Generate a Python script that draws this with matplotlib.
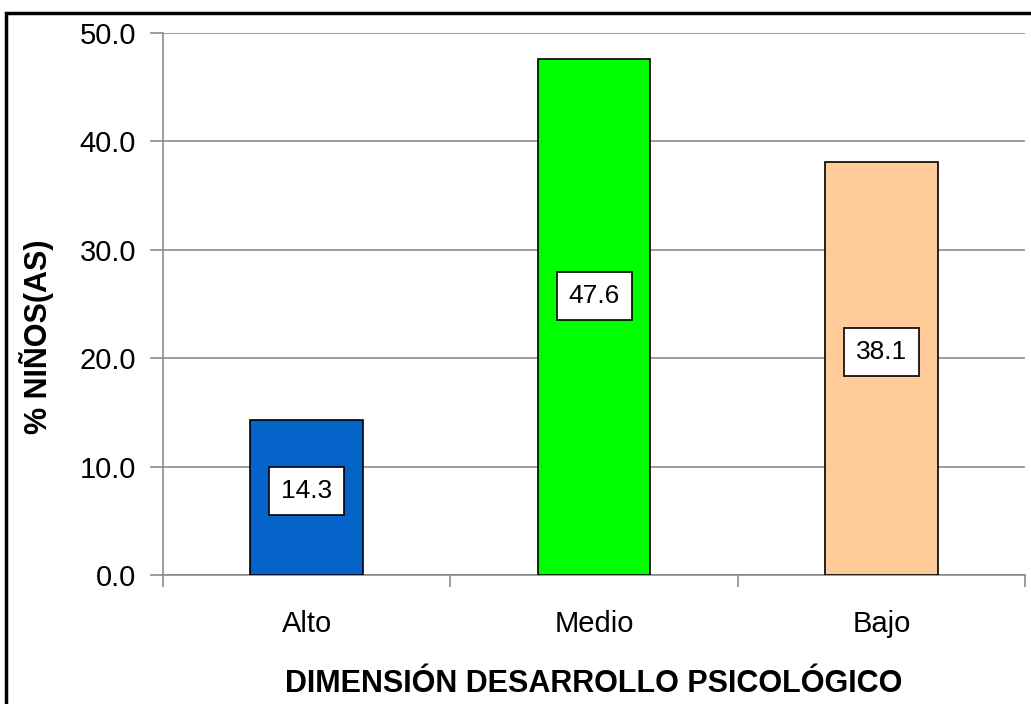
import matplotlib.pyplot as plt
from matplotlib.patches import Rectangle

# data
categorias = ["Alto", "Medio", "Bajo"]
porcentajes = [14.3, 47.6, 38.1]
colores = ["#0563C9", "#00FF00", "#FFCC99"]

fig = plt.figure(figsize=(10.31, 7.04), dpi=100)
ax = fig.add_axes([163/1031, 1-575/704, (1025-163)/1031, (575-33)/704])

# outer frame of the chart
fig.patches.append(Rectangle((6/1031, -0.05), 1.1, 1-13/704+0.05, transform=fig.transFigure,
                             fill=False, edgecolor="black", linewidth=2.5, zorder=10))

x = range(len(categorias))
ax.bar(x, porcentajes, width=0.393, color=colores, edgecolor="black", linewidth=1.2, zorder=3)

# value labels in white boxes
for i, v in enumerate(porcentajes):
    ax.text(i, v * 0.54, f"{v:.1f}", ha="center", va="center", fontsize=19,
            family="Liberation Sans", zorder=4,
            bbox=dict(boxstyle="square,pad=0.45", facecolor="white", edgecolor="black", linewidth=1.2))

ax.set_xlim(-0.5, 2.5)
ax.set_ylim(0, 50)
ax.set_yticks([0, 10, 20, 30, 40, 50])
ax.set_yticklabels([f"{t:.1f}" for t in [0, 10, 20, 30, 40, 50]], fontsize=21, family="Liberation Sans")
ax.yaxis.grid(True, color="#8c8c8c", linewidth=1.2, zorder=0)
ax.set_axisbelow(True)

# category ticks between groups
ax.set_xticks([-0.5, 0.5, 1.5, 2.5])
ax.set_xticklabels([])
ax.set_xticks(list(x), minor=True)
ax.set_xticklabels(categorias, minor=True, fontsize=21, family="Liberation Sans")
ax.tick_params(axis="x", which="minor", length=0, pad=25)
ax.tick_params(axis="x", which="major", length=8.5, color="#8c8c8c", width=1.2)
ax.tick_params(axis="y", length=9.4, color="#8c8c8c", width=1.2, pad=10)

for s in ["top", "right"]:
    ax.spines[s].set_visible(False)
for s in ["left", "bottom"]:
    ax.spines[s].set_color("#8c8c8c")
    ax.spines[s].set_linewidth(1.2)

ax.set_ylabel("% NIÑOS(AS)", fontsize=22, fontweight="bold", family="Liberation Sans")
ax.yaxis.set_label_coords(-(163-37)/862, (575-337)/542)
ax.yaxis.label.set_va("center")
ax.set_xlabel("DIMENSIÓN DESARROLLO PSICOLÓGICO", fontsize=22, fontweight="bold",
              family="Liberation Sans")
ax.xaxis.set_label_coords(0.5, -(684-575)/542)
ax.xaxis.label.set_va("center")

plt.savefig("out.png", dpi=100)
